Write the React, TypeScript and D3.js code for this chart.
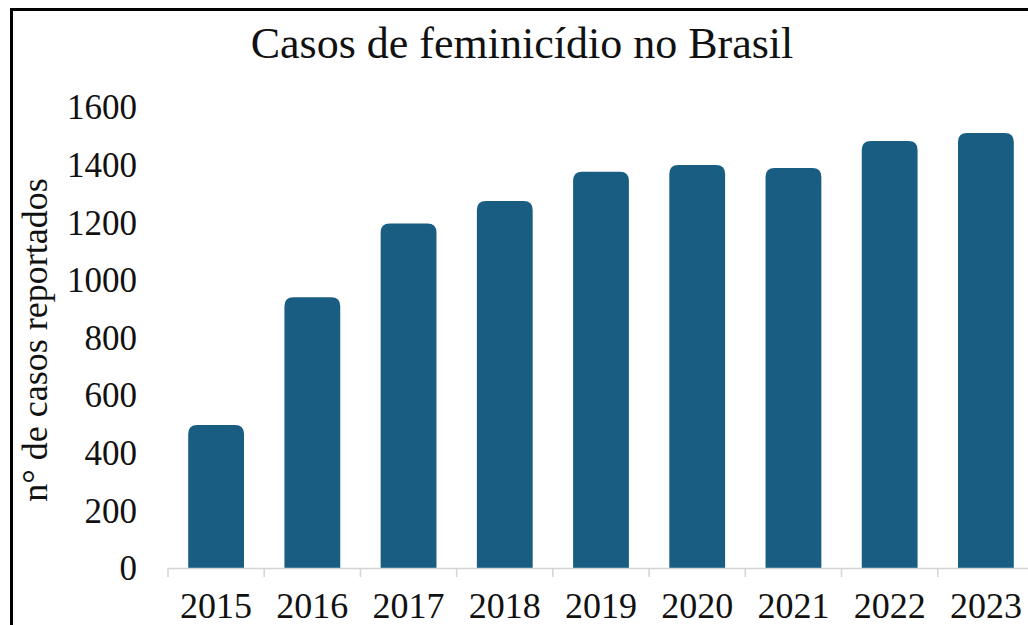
import React, { useRef, useEffect } from 'react'
import * as d3 from 'd3'

const years = ['2015', '2016', '2017', '2018', '2019', '2020', '2021', '2022', '2023']
const casos = [496, 940, 1196, 1274, 1375, 1399, 1388, 1482, 1510]
const yTicks = [0, 200, 400, 600, 800, 1000, 1200, 1400, 1600]

const title = 'Casos de feminicídio no Brasil'
const yLabel = 'n° de casos reportados'

const width = 1028
const height = 625
const barColor = '#195e82'
const font = '"Liberation Serif", "Times New Roman", serif'

export default function App() {
    const svgRef = useRef<SVGSVGElement>(null)

    useEffect(() => {
        draw()
    }, [])

    const draw = () => {
        const svg = d3.select(svgRef.current)
        svg.selectAll('*').remove()

        const x = d3.scaleBand<string>()
            .domain(years)
            .range([168, 1034])
            .paddingInner(0.42)
            .paddingOuter(0.21)
        const y = d3.scaleLinear()
            .domain([0, 1600])
            .range([568, 107])

        // frame (right/bottom edges fall outside the picture)
        svg.append('rect')
            .attr('x', 11.5)
            .attr('y', 9.5)
            .attr('width', 1040)
            .attr('height', 640)
            .attr('fill', 'none')
            .attr('stroke', '#000')
            .attr('stroke-width', 3)

        svg.append('text')
            .attr('x', 522)
            .attr('y', 58)
            .attr('text-anchor', 'middle')
            .attr('font-family', font)
            .attr('font-size', 44)
            .attr('fill', '#111')
            .text(title)

        // bars with rounded tops
        const r = 9
        const bw = x.bandwidth()
        svg.append('g')
            .selectAll('path')
            .data(years.map((yr, i) => ({ yr, v: casos[i] })))
            .join('path')
            .attr('fill', barColor)
            .attr('d', d => {
                const x0 = x(d.yr)!
                const y0 = y(d.v)
                const yb = y(0)
                const p = d3.path()
                p.moveTo(x0, yb)
                p.lineTo(x0, y0 + r)
                p.quadraticCurveTo(x0, y0, x0 + r, y0)
                p.lineTo(x0 + bw - r, y0)
                p.quadraticCurveTo(x0 + bw, y0, x0 + bw, y0 + r)
                p.lineTo(x0 + bw, yb)
                p.closePath()
                return p.toString()
            })

        // x axis
        const xAxis = svg.append('g')
        xAxis.append('line')
            .attr('x1', 168).attr('x2', 1034)
            .attr('y1', 568.5).attr('y2', 568.5)
            .attr('stroke', '#d4d4d4')
            .attr('stroke-width', 1.5)
        const step = x.step()
        xAxis.selectAll('line.tick')
            .data(d3.range(years.length + 1))
            .join('line')
            .attr('class', 'tick')
            .attr('x1', i => 168 + i * step)
            .attr('x2', i => 168 + i * step)
            .attr('y1', 568)
            .attr('y2', 577)
            .attr('stroke', '#d4d4d4')
            .attr('stroke-width', 1.5)
        xAxis.selectAll('text')
            .data(years)
            .join('text')
            .attr('x', d => x(d)! + bw / 2)
            .attr('y', 618)
            .attr('text-anchor', 'middle')
            .attr('font-family', font)
            .attr('font-size', 36)
            .attr('fill', '#111')
            .text(d => d)

        // y axis labels
        svg.append('g')
            .selectAll('text')
            .data(yTicks)
            .join('text')
            .attr('x', 137)
            .attr('y', d => y(d))
            .attr('dy', '0.35em')
            .attr('text-anchor', 'end')
            .attr('font-family', font)
            .attr('font-size', 35)
            .attr('fill', '#111')
            .text(d => d)

        svg.append('text')
            .attr('transform', 'translate(47, 340) rotate(-90)')
            .attr('text-anchor', 'middle')
            .attr('font-family', font)
            .attr('font-size', 36)
            .attr('fill', '#111')
            .text(yLabel)
    }

    return (
        <svg
            ref={svgRef}
            width={width}
            height={height}
            style={{ position: 'absolute', left: 0, top: 0, background: '#fff' }}
        />
    )
}
